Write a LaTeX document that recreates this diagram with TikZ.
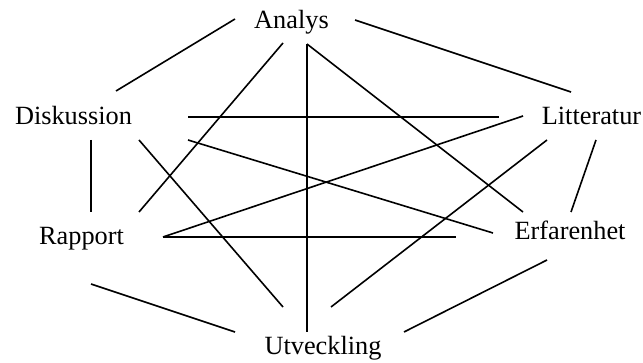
\documentclass[tikz,border=0pt]{standalone}
\usepackage{fontspec}
\setmainfont{Liberation Serif}
\usepackage{tikz}

\begin{document}
\begin{tikzpicture}[x=1pt,y=-1pt]
  \tikzset{
    word/.style={anchor=base, inner sep=0pt, font=\fontsize{26.3}{30}\selectfont},
    link/.style={line width=1.6pt, black}
  }
  \useasboundingbox (0,0) rectangle (643,363);
  % the six words
  \node[word] (ana) at (291.5,29)  {Analys};
  \node[word] (dis) at (73.5,125)  {Diskussion};
  \node[word] (lit) at (591.5,125) {Litteratur};
  \node[word] (rap) at (81.5,245)  {Rapport};
  \node[word] (erf) at (570,240)   {Erfarenhet};
  \node[word] (utv) at (323,355)   {Utveckling};
  % line ends round each word
  \coordinate (ana-w)  at (235,19);
  \coordinate (ana-e)  at (355,20);
  \coordinate (ana-sw) at (283,43);
  \coordinate (ana-s)  at (307,44);
  \coordinate (dis-ne) at (116,91);
  \coordinate (dis-e)  at (188,117);
  \coordinate (dis-se) at (188,140);
  \coordinate (dis-s)  at (91,140);
  \coordinate (dis-s2) at (139,140);
  \coordinate (lit-nw) at (571,92);
  \coordinate (lit-w)  at (499,117);
  \coordinate (lit-w2) at (523,116);
  \coordinate (lit-sw) at (547,140);
  \coordinate (lit-s)  at (596,140);
  \coordinate (rap-n)  at (91,212);
  \coordinate (rap-ne) at (139,212);
  \coordinate (rap-e)  at (163,237);
  \coordinate (rap-s)  at (91,284);
  \coordinate (erf-nw) at (523,212);
  \coordinate (erf-n)  at (571,212);
  \coordinate (erf-w)  at (493,233);
  \coordinate (erf-w2) at (456,237);
  \coordinate (erf-s)  at (547,260);
  \coordinate (utv-n)  at (307,332);
  \coordinate (utv-nw) at (283,307);
  \coordinate (utv-ne) at (331,307);
  \coordinate (utv-w)  at (235,332);
  \coordinate (utv-e)  at (404,332);
  % every pair is joined
  \foreach \from/\to in {ana-w/dis-ne, ana-e/lit-nw, ana-sw/rap-ne, ana-s/utv-n,
      ana-s/erf-nw, dis-e/lit-w, dis-se/erf-w, dis-s/rap-n, dis-s2/utv-nw,
      lit-w2/rap-e, lit-sw/utv-ne, lit-s/erf-n, rap-e/erf-w2, rap-s/utv-w,
      erf-s/utv-e} {
    \draw[link] (\from) -- (\to);
  }
\end{tikzpicture}
\end{document}
